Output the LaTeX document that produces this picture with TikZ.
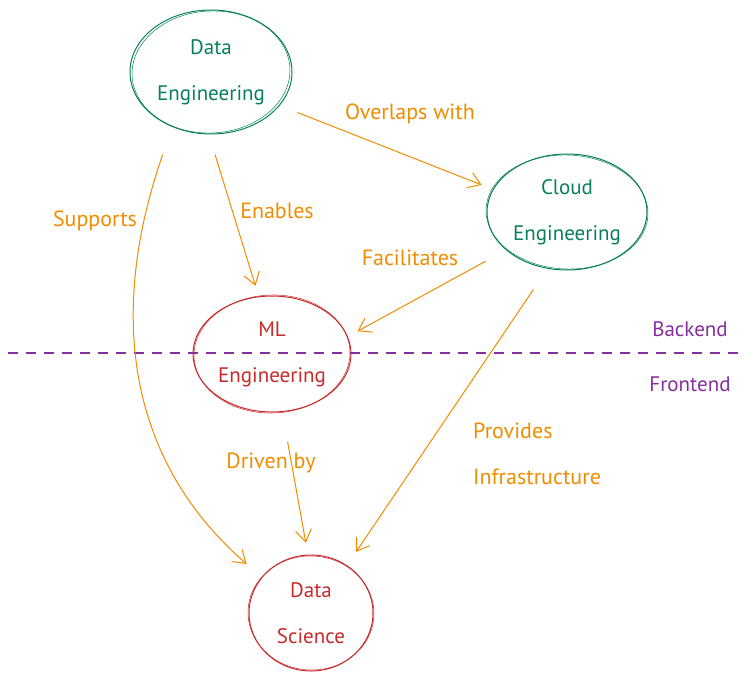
\documentclass[tikz,border=0pt]{standalone}
\usepackage{fontspec}
\setmainfont{PT Sans}
\usetikzlibrary{arrows.meta,shapes.geometric}
\definecolor{tealg}{HTML}{087F5B}
\definecolor{redc}{HTML}{C92A2A}
\definecolor{orng}{HTML}{F08C00}
\definecolor{purp}{HTML}{862E9C}
\tikzset{
  bubble/.style={ellipse, draw, line width=1pt, inner sep=0pt, align=center,
    font=\fontsize{21}{46}\selectfont},
  greenb/.style={bubble, draw=tealg, text=tealg},
  redb/.style={bubble, draw=redc, text=redc},
  sketch/.style={line width=0.5pt},
  link/.style={draw=orng, line width=1pt, -{Straight Barb[length=12pt,width=16pt]}},
  lbl/.style={text=orng, font=\fontsize{22}{46}\selectfont, inner sep=0pt},
  sidelbl/.style={text=purp, font=\fontsize{21}{46}\selectfont, inner sep=0pt},
  divider/.style={draw=purp, line width=1.5pt, dash pattern=on 10pt off 8pt}
}
\begin{document}
\begin{tikzpicture}[x=1pt,y=-1pt]
\useasboundingbox (0,0) rectangle (753,682);
% nodes
\node[greenb, minimum width=162pt, minimum height=124pt] (de) at (211,72) {Data\\Engineering};
\node[greenb, minimum width=160pt, minimum height=116pt] (ce) at (567,212) {Cloud\\Engineering};
\node[redb, minimum width=158pt, minimum height=116pt] (ml) at (272,354) {ML\\Engineering};
\node[redb, minimum width=124pt, minimum height=116pt] (ds) at (311,613) {Data\\Science};
% sketch second strokes
\draw[sketch, tealg] (de.center) ellipse [x radius=79pt, y radius=61pt, rotate=3];
\draw[sketch, tealg] (ce.center) ellipse [x radius=81pt, y radius=57pt, rotate=-2];
\draw[sketch, redc] (ml.center) ellipse [x radius=78pt, y radius=59pt, rotate=2];
\draw[sketch, redc] (ds.center) ellipse [x radius=63pt, y radius=57pt, rotate=-3];
% divider
\coordinate (dl) at (8,353);
\coordinate (dr) at (740,353);
\draw[divider] (dl) -- (dr);
\node[sidelbl] (back) at (690,329) {Backend};
\node[sidelbl] (front) at (690,384) {Frontend};
% arrows
\draw[link, shorten <=19pt, shorten >=12pt] (de.-26) -- (ce.163);
\draw[link, shorten <=21pt, shorten >=11pt] (de.-92) -- (ml.103);
\draw[link, shorten <=29pt, shorten >=20pt] (de.-125) .. controls +(-58,165) and +(-147,-128) .. (ds.144);
\draw[link, shorten <=23pt, shorten >=11pt] (ce.-148) -- (ml.13);
\draw[link, shorten <=25pt, shorten >=16pt] (ce.-109) -- (ds.53);
\draw[link, shorten <=30pt, shorten >=12pt] (ml.-80) -- (ds.93);
% labels
\node[lbl] (l1) at (410,114) {Overlaps with};
\node[lbl] (l2) at (277,211) {Enables};
\node[lbl] (l3) at (95,221) {Supports};
\node[lbl] (l4) at (410,258) {Facilitates};
\node[lbl] (l5) at (271,463) {Driven by};
\node[lbl, anchor=west] (l6) at (473,431) {Provides};
\node[lbl, anchor=west] (l7) at (473,477) {Infrastructure};
\end{tikzpicture}
\end{document}
